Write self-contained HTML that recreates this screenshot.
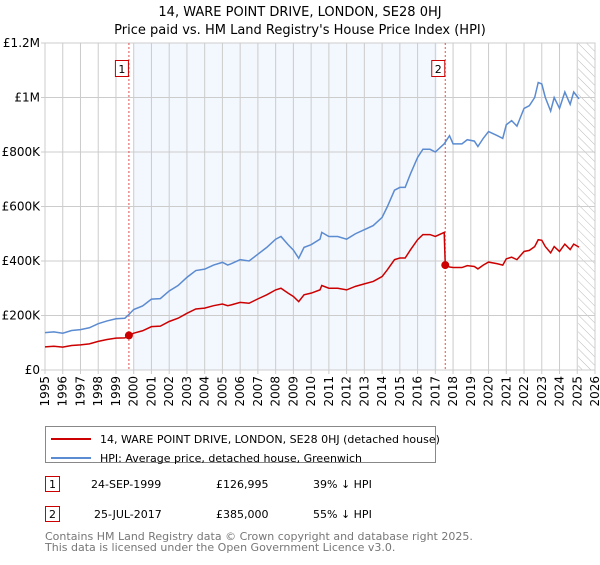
<!DOCTYPE html>
<html><head><meta charset="utf-8"><style>
body{margin:0;background:#fff;font-family:"Liberation Sans","DejaVu Sans",sans-serif;}
svg text{font-family:"DejaVu Sans","Liberation Sans",sans-serif;}
</style></head><body>
<svg id="chart" width="600" height="560" viewBox="0 0 600 560">
<text x="300" y="16" text-anchor="middle" font-size="13">14, WARE POINT DRIVE, LONDON, SE28 0HJ</text>
<text x="300" y="34" text-anchor="middle" font-size="13">Price paid vs. HM Land Registry's House Price Index (HPI)</text>
<g id="plot"></g>
<g id="legend">
<rect x="45.5" y="426.5" width="390" height="36" fill="#fff" stroke="#888"/>
<line x1="51" y1="439" x2="91" y2="439" stroke="#cc0000" stroke-width="2"/>
<text x="100" y="443" font-size="11">14, WARE POINT DRIVE, LONDON, SE28 0HJ (detached house)</text>
<line x1="51" y1="458" x2="91" y2="458" stroke="#5b8bd0" stroke-width="2"/>
<text x="100" y="462" font-size="11">HPI: Average price, detached house, Greenwich</text>
</g>
<g font-size="11">
<rect x="45.5" y="476.5" width="14" height="15" fill="#fff" stroke="#cc0000"/>
<text x="52.5" y="488" text-anchor="middle">1</text>
<text x="91" y="488">24-SEP-1999</text><text x="216" y="488">£126,995</text><text x="313" y="488">39% ↓ HPI</text>
<rect x="45.5" y="506.5" width="14" height="15" fill="#fff" stroke="#cc0000"/>
<text x="52.5" y="518" text-anchor="middle">2</text>
<text x="94" y="518">25-JUL-2017</text><text x="216" y="518">£385,000</text><text x="313" y="518">55% ↓ HPI</text>
</g>
<g font-size="11" fill="#777">
<text x="45" y="540">Contains HM Land Registry data © Crown copyright and database right 2025.</text>
<text x="45" y="551">This data is licensed under the Open Government Licence v3.0.</text>
</g>
</svg>
<script>
const hpiYears=[1995,1995.5,1996,1996.5,1997,1997.5,1998,1998.5,1999,1999.5,1999.75,2000,2000.5,2001,2001.5,2002,2002.5,2003,2003.5,2004,2004.5,2005,2005.3,2005.5,2006,2006.5,2007,2007.5,2008,2008.3,2008.7,2009,2009.3,2009.6,2010,2010.5,2010.6,2011,2011.5,2012,2012.5,2013,2013.5,2014,2014.3,2014.7,2015,2015.3,2015.6,2016,2016.3,2016.7,2017,2017.5,2017.8,2018,2018.5,2018.8,2019.2,2019.4,2019.7,2020,2020.5,2020.8,2021,2021.3,2021.6,2022,2022.3,2022.6,2022.8,2023,2023.2,2023.5,2023.7,2024,2024.3,2024.6,2024.8,2025.1];
const hpiValues=[137,140,135,145,148,155,170,180,188,190,205,222,235,260,262,290,310,340,365,370,385,395,385,390,405,400,425,450,480,490,460,440,410,450,460,480,505,490,490,480,500,515,530,560,600,660,670,670,720,780,810,810,800,830,860,830,830,845,840,820,850,875,860,850,900,915,895,960,970,1000,1055,1050,1000,950,1000,960,1020,975,1020,995];
const priceYears=[1995,1995.5,1996,1996.5,1997,1997.5,1998,1998.5,1999,1999.5,1999.73,2000,2000.5,2001,2001.5,2002,2002.5,2003,2003.5,2004,2004.5,2005,2005.3,2005.5,2006,2006.5,2007,2007.5,2008,2008.3,2008.7,2009,2009.3,2009.6,2010,2010.5,2010.6,2011,2011.5,2012,2012.5,2013,2013.5,2014,2014.3,2014.7,2015,2015.3,2015.6,2016,2016.3,2016.7,2017,2017.5,2017.56,2017.8,2018,2018.5,2018.8,2019.2,2019.4,2019.7,2020,2020.5,2020.8,2021,2021.3,2021.6,2022,2022.3,2022.6,2022.8,2023,2023.2,2023.5,2023.7,2024,2024.3,2024.6,2024.8,2025.1];
const priceValues=[85,87,84,90,92,96,105,112,117,118,127,135,144,159,161,178,190,208,224,227,236,242,236,239,248,245,261,276,294,300,282,270,251,276,282,294,310,300,300,294,307,316,325,343,368,405,411,411,441,478,497,497,490,505,385,378,376,376,383,380,371,385,396,390,385,408,414,405,435,439,453,478,476,453,430,453,435,462,442,462,451];
const saleYears=[1999.73,2017.56];
const saleValues=[127,385];
const saleLabels=["1","2"];
const yTicks=[0,200,400,600,800,1000,1200];
const yTickLabels=["£0","£200K","£400K","£600K","£800K","£1M","£1.2M"];
const xTicks=[1995,1996,1997,1998,1999,2000,2001,2002,2003,2004,2005,2006,2007,2008,2009,2010,2011,2012,2013,2014,2015,2016,2017,2018,2019,2020,2021,2022,2023,2024,2025,2026];

const X0=45,X1=595,Y0=370,Y1=43;
const xs=v=>X0+(v-1995)/(2026-1995)*(X1-X0);
const ys=v=>Y0-v/1200*(Y0-Y1);
const NS="http://www.w3.org/2000/svg";
const g=document.getElementById('plot');
function mk(t,a,p){const e=document.createElementNS(NS,t);for(const k in a)e.setAttribute(k,a[k]);(p||g).appendChild(e);return e;}

const shade=mk('rect',{x:xs(2000),y:Y1,width:xs(2017.1)-xs(2000),height:Y0-Y1,fill:'#f3f7fe'});


const defs=mk('defs',{});
const pat=mk('pattern',{id:'hatch',width:6,height:6,patternUnits:'userSpaceOnUse',patternTransform:'rotate(-45)'},defs);
mk('line',{x1:0,y1:0,x2:0,y2:6,stroke:'#bbb','stroke-width':1},pat);
const hat=mk('rect',{x:xs(2025.05),y:Y1,width:X1-xs(2025.05),height:Y0-Y1,fill:'url(#hatch)'});



xTicks.forEach(t=>{
  const l=mk('line',{x1:xs(t),y1:Y1,x2:xs(t),y2:Y0+4,stroke:'#ccc','stroke-width':1});
  
  
  const tx=mk('text',{x:0,y:0,'font-size':12,'text-anchor':'end',transform:`translate(${xs(t)+4},${Y0+6}) rotate(-90)`});
  tx.textContent=t;
  
  
});
yTicks.forEach((t,i)=>{
  const l=mk('line',{x1:X0-4,y1:ys(t),x2:X1,y2:ys(t),stroke:'#ccc','stroke-width':1});
  
  
  const tx=mk('text',{x:X0-5,y:ys(t)+4,'font-size':12,'text-anchor':'end'});
  tx.textContent=yTickLabels[i];
  
  
});
mk('rect',{x:X0,y:Y1,width:X1-X0,height:Y0-Y1,fill:'none',stroke:'#ccc'});

saleYears.forEach((s,i)=>{
  const l=mk('line',{x1:xs(s),y1:Y1,x2:xs(s),y2:Y0,stroke:'#e05050','stroke-width':1,'stroke-dasharray':'2,2'});
  
  
  const b=mk('rect',{x:xs(s)-13.5,y:60.5,width:13,height:16,fill:'#fff',stroke:'#cc0000'});
  
  
  const t=mk('text',{x:xs(s)-7,y:73,'font-size':11,'text-anchor':'middle'});
  t.textContent=saleLabels[i];
  
  
});

const hp=mk('polyline',{points:hpiYears.map((y,i)=>xs(y)+','+ys(hpiValues[i])).join(' '),fill:'none',stroke:'#5b8bd0','stroke-width':1.5});


const pp=mk('polyline',{points:priceYears.map((y,i)=>xs(y)+','+ys(priceValues[i])).join(' '),fill:'none',stroke:'#cc0000','stroke-width':1.5});


saleYears.forEach((s,i)=>{
  const c=mk('circle',{cx:xs(s),cy:ys(saleValues[i]),r:4,fill:'#cc0000'});
  
  
});
</script>
</body></html>
